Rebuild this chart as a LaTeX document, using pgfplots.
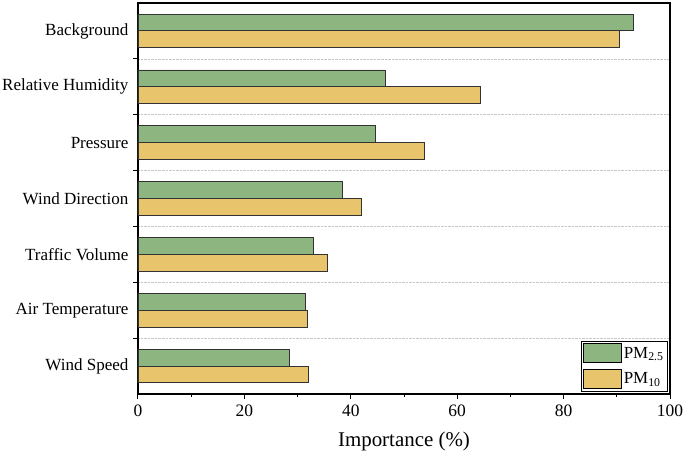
\documentclass[border=0pt]{standalone}
\usepackage{fontspec}
\setmainfont{Liberation Serif}
\usepackage{pgfplots}
\pgfplotsset{compat=1.18}
\definecolor{pmgreen}{RGB}{141,181,128}
\definecolor{pmyellow}{RGB}{232,196,108}
\begin{document}
\begin{tikzpicture}
\useasboundingbox (-138bp,-62bp) rectangle (547bp,394bp);
\begin{axis}[
  at={(0,0)}, anchor=south west,
  scale only axis, width=532bp, height=391bp,
  xbar, bar width=16.8bp,
  xmin=0, xmax=100,
  ymin=-0.5, ymax=6.5, y dir=reverse,
  ytick={0.5,1.5,...,5.5},
  yticklabels={},
  ymajorgrids=true,
  major grid style={densely dotted, gray!45, line width=0.6bp},
  extra y ticks={0,...,6},
  extra y tick labels={Background,Relative Humidity,Pressure,Wind Direction,Traffic Volume,Air Temperature,Wind Speed},
  extra y tick style={major tick length=0pt, grid=none,
    yticklabel style={font=\fontsize{17.1}{17.1}\selectfont, xshift=-6bp}},
  xtick={0,20,...,100},
  minor xtick={10,30,...,90},
  xtick pos=bottom, ytick pos=left,
  tick align=outside,
  major tick length=5bp, minor tick length=3bp,
  tick style={line width=1bp, black},
  axis line style={line width=1.2bp},
  /pgf/number format/assume math mode=true,
  ticklabel style={font=\fontsize{17.5}{17.5}\selectfont},
  xticklabel style={yshift=-2.5bp},
  xlabel={Importance (\%)},
  xlabel style={font=\fontsize{21}{21}\selectfont, yshift=-8bp},
  legend style={at={(0.996,0.007)}, anchor=south east, draw=black, line width=0.6bp,
    font=\fontsize{17}{17}\selectfont, inner sep=2bp, row sep=6bp},
  legend cell align=left,
  legend image code/.code={\draw[#1, draw=black, line width=0.8bp] (0bp,-9.5bp) rectangle (38bp,9.5bp);},
]
\addplot[fill=pmgreen, draw=black!80, line width=0.9bp, bar shift=8.4bp] coordinates {
(93.2,0) (46.5,1) (44.7,2) (38.4,3) (32.9,4) (31.4,5) (28.4,6)};
\addplot[fill=pmyellow, draw=black!80, line width=0.9bp, bar shift=-8.4bp] coordinates {
(90.5,0) (64.4,1) (53.9,2) (42.0,3) (35.7,4) (31.8,5) (32.1,6)};
\legend{PM\textsubscript{2.5},PM\textsubscript{10}}
\end{axis}
\end{tikzpicture}
\end{document}
